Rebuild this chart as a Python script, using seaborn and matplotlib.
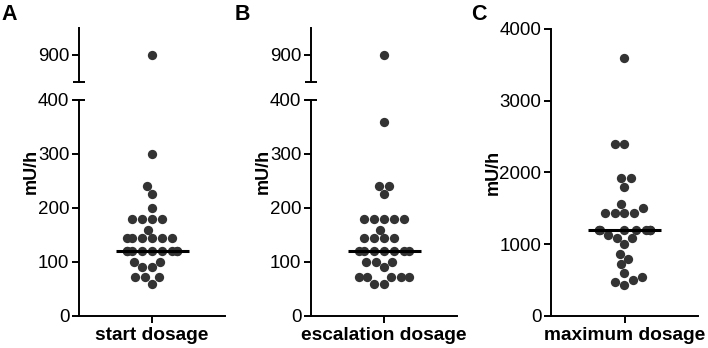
import numpy as np
import pandas as pd
import matplotlib
matplotlib.use("Agg")
import matplotlib.pyplot as plt
import seaborn as sns

# Insulin dosages in mU/h (33 patients)
start_dosage = [900, 300, 240, 225, 200, 180, 180, 180, 180, 160,
                144, 144, 144, 144, 144, 144,
                120, 120, 120, 120, 120, 120, 120, 120, 120,
                100, 100, 90, 90, 72, 72, 72, 60]
escalation_dosage = [900, 360, 240, 240, 225, 180, 180, 180, 180, 180, 160,
                     144, 144, 144, 144,
                     120, 120, 120, 120, 120, 120, 120,
                     100, 100, 100, 90, 72, 72, 72, 72, 72, 60, 60]
maximum_dosage = [3600, 2400, 2400, 1920, 1920, 1800, 1560, 1500,
                  1440, 1440, 1440, 1440,
                  1200, 1200, 1200, 1200, 1200, 1200, 1200, 1200, 1200,
                  1130, 1080, 1080, 1000, 860, 800, 720, 600, 540, 500, 480, 430]

group_names = ["start dosage", "escalation dosage", "maximum dosage"]
panel_letters = ["A", "B", "C"]
low_ticks = [0, 100, 200, 300, 400]
high_ticks = [900]
max_ticks = [0, 1000, 2000, 3000, 4000]

# Plot config
sns.set_theme(style="ticks")
plt.rcParams["font.family"] = ["Liberation Sans", "DejaVu Sans"]
plt.rcParams["axes.edgecolor"] = "black"
plt.rcParams["axes.linewidth"] = 1.4
plt.rcParams["text.color"] = "black"
plt.rcParams["axes.labelcolor"] = "black"
plt.rcParams["xtick.color"] = "black"
plt.rcParams["ytick.color"] = "black"

dot_color = "#333333"
lw = 1.4
half = 1.15  # x range on each side of the category

fig = plt.figure(figsize=(7.08, 3.48), dpi=100)


def make_df(values, name):
    return pd.DataFrame({"group": [name] * len(values), "value": values})


def dots(ax, df):
    sns.swarmplot(data=df, x="group", y="value", ax=ax, color=dot_color,
                  size=6.7, linewidth=0, warn_thresh=1)


def median_line(ax, df):
    sns.boxplot(data=df, x="group", y="value", ax=ax, width=half,
                showbox=False, showcaps=False, showfliers=False,
                whiskerprops={"visible": False},
                medianprops={"color": "black", "linewidth": 2.2, "zorder": 5})


def style_axes(ax, yticks, ylim, bottom=True):
    ax.set_xlim(-half, half)
    ax.set_ylim(*ylim)
    ax.set_yticks(yticks)
    ax.set_xlabel("")
    ax.set_ylabel("")
    ax.tick_params(width=lw, length=5, labelsize=13.5, pad=2)
    sns.despine(ax=ax, bottom=not bottom)
    if bottom:
        ax.tick_params(axis="x", labelsize=13.8, pad=3)
        for lab in ax.get_xticklabels():
            lab.set_fontweight("bold")
    else:
        ax.set_xticks([])


# panels A and B have a broken y axis
lefts = [79 / 708, 311 / 708]
width = 146 / 708
for i, values in enumerate([start_dosage, escalation_dosage]):
    df = make_df(values, group_names[i])
    ax_low = fig.add_axes([lefts[i], 0.092, width, 0.6207])
    ax_up = fig.add_axes([lefts[i], 0.7644, width, 0.1552])

    dots(ax_low, df)
    median_line(ax_low, df)
    style_axes(ax_low, low_ticks, (0, 400))

    dots(ax_up, df)
    style_axes(ax_up, high_ticks, (850, 950), bottom=False)

    # break caps
    cap = 6 / 146
    ax_up.plot([-cap, cap], [0, 0], transform=ax_up.transAxes, color="black",
               lw=lw, clip_on=False, solid_capstyle="butt")
    ax_low.plot([-cap, cap], [1, 1], transform=ax_low.transAxes, color="black",
                lw=lw, clip_on=False, solid_capstyle="butt")

    ax_low.set_ylabel("mU/h", fontsize=13, fontweight="bold")
    ax_low.yaxis.set_label_coords(-0.27, 0.667)

# panel C, plain axis
df_c = make_df(maximum_dosage, group_names[2])
ax_c = fig.add_axes([551 / 708, 0.092, 147 / 708, 0.8247])
dots(ax_c, df_c)
median_line(ax_c, df_c)
style_axes(ax_c, max_ticks, (0, 4000))
ax_c.set_ylabel("mU/h", fontsize=13, fontweight="bold")
ax_c.yaxis.set_label_coords(-0.335, 0.5)

for x, letter in zip([1 / 708, 235 / 708, 471 / 708], panel_letters):
    fig.text(x, 0.988, letter, fontsize=15.5, fontweight="bold", va="top", ha="left")

fig.savefig("out.png", dpi=100)
plt.close(fig)
print("Done")
